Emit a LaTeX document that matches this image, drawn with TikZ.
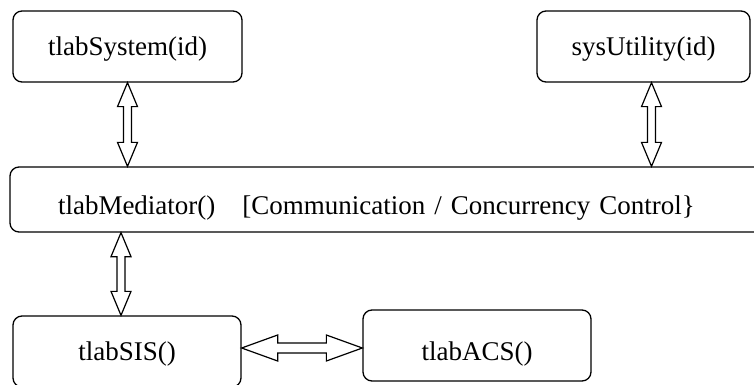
\documentclass[tikz,border=0pt]{standalone}
\usepackage{fontspec}
\setmainfont{Liberation Serif}
\usetikzlibrary{calc}

\tikzset{
  block/.style={draw, rounded corners=9pt, line width=1.3pt, minimum height=71pt,
    inner sep=0pt, text depth=0pt, font=\fontsize{27}{30}\selectfont},
  lowtext/.style={text height=30pt},
  link/.style={draw, line width=1.2pt, fill=white, line join=miter}
}

% hollow two-way arrow from #2 to #3, #1 = head length/head half width/shaft half width
\newcommand{\twoway}[3][24/10/4]{%
  \foreach \hl/\hw/\sw in {#1}{%
    \path[link] let \p1=(#2), \p2=(#3),
      \n1={veclen(\x2-\x1,\y2-\y1)}, \n2={atan2(\y2-\y1,\x2-\x1)} in
      [shift={(\p1)}, rotate=\n2]
      (0,0) -- (\hl,\hw) -- (\hl,\sw) -- ({\n1-\hl},\sw) -- ({\n1-\hl},\hw)
      -- (\n1,0) -- ({\n1-\hl},-\hw) -- ({\n1-\hl},-\sw) -- (\hl,-\sw)
      -- (\hl,-\hw) -- cycle;}}

\begin{document}
\begin{tikzpicture}[x=1pt,y=-1pt]
\useasboundingbox (0,0) rectangle (754,385);
\clip (0,0) rectangle (754,385);

\node[block, minimum width=229pt] (sys)  at (127.5,46.5) {tlabSystem(id)};
\node[block, minimum width=213pt] (util) at (643.5,46.5) {sysUtility(id)};
\node[block, lowtext, minimum height=65pt, inner xsep=48pt, text width=684pt, align=left]
  (med) at (400,199.5) {tlabMediator()\hspace{27pt}[Communication / Concurrency Control\}};
\node[block, minimum width=228pt] (sis) at (127,351.5) {tlabSIS()};
\node[block, lowtext, minimum width=228pt] (acs) at (477,345.5) {tlabACS()};

\coordinate (utilport) at ([xshift=8pt]util.south);
\coordinate (sisport) at ([xshift=-6pt]sis.north);
\coordinate (midrow) at (300,348);

\twoway{sys.south}{sys.south |- med.north}
\twoway{utilport}{utilport |- med.north}
\twoway{sisport |- med.south}{sisport}
\twoway[36/13/5]{sis.east |- midrow}{acs.west |- midrow}
\end{tikzpicture}
\end{document}
